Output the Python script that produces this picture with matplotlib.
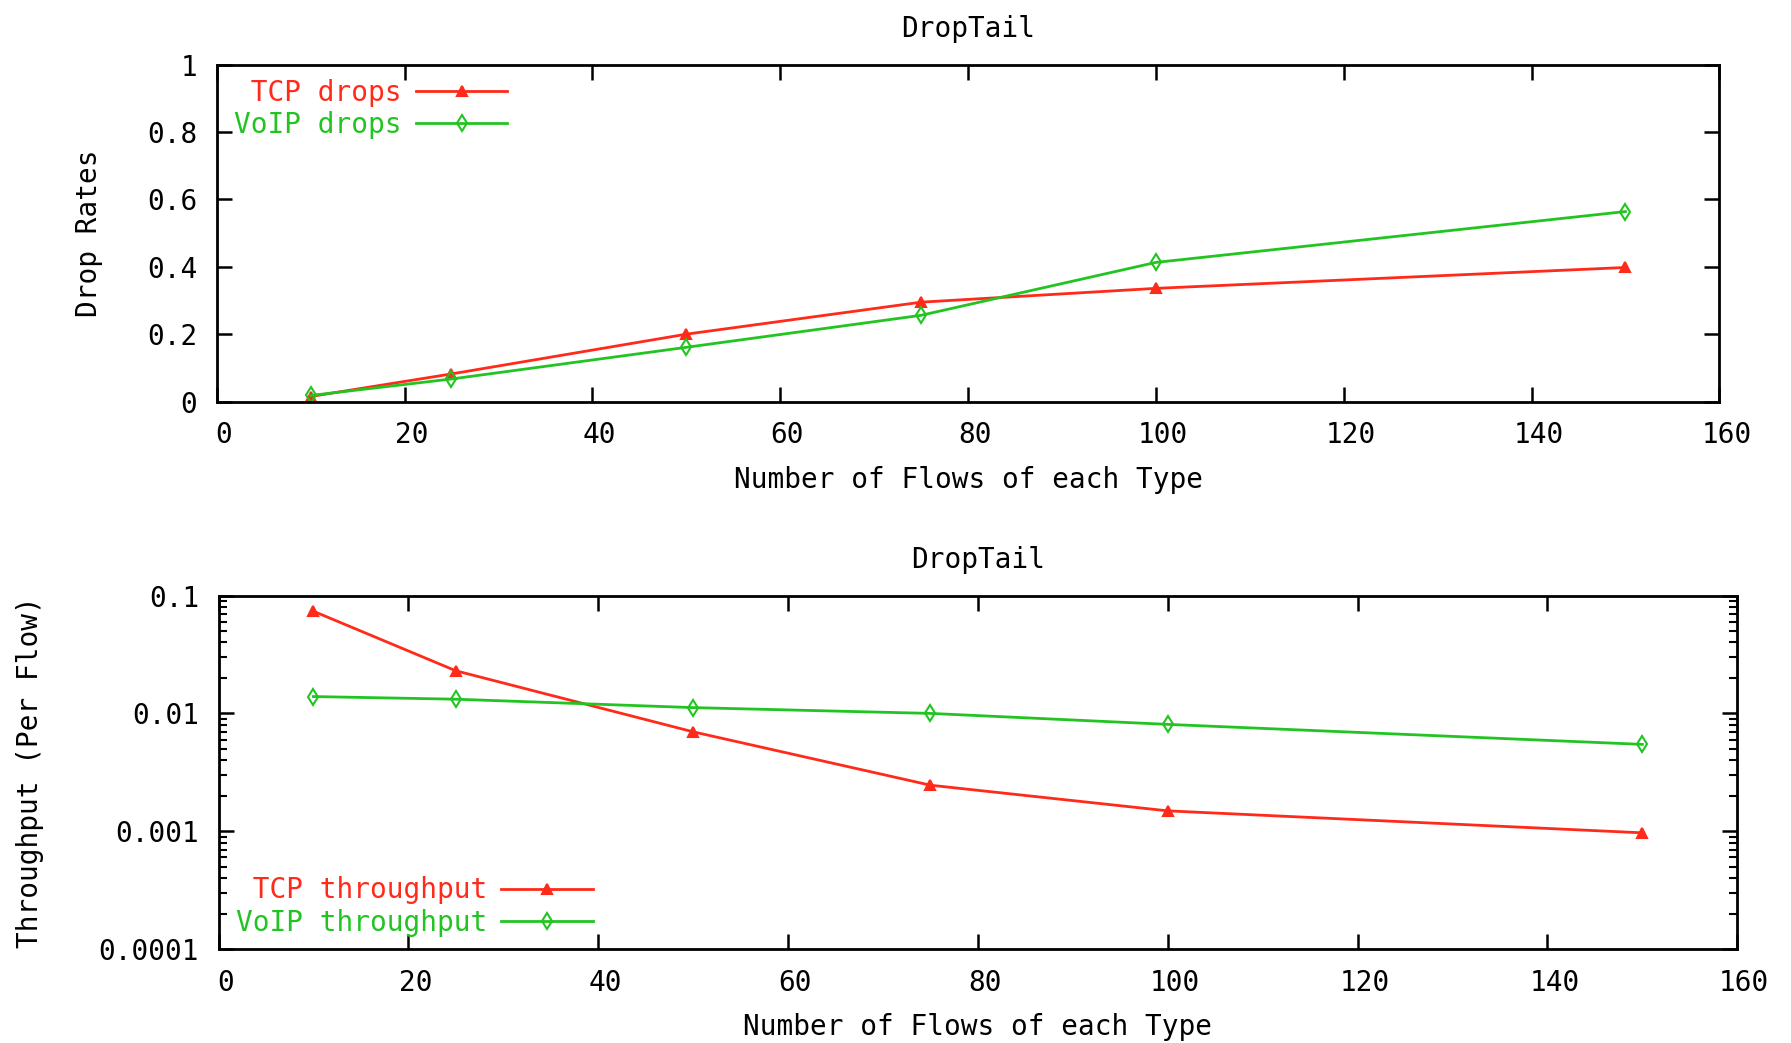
import numpy as np
import matplotlib
matplotlib.use('Agg')
from matplotlib import pyplot as plt
from matplotlib import transforms
from matplotlib.ticker import LogLocator, NullFormatter, FixedLocator

flows = [10, 25, 50, 75, 100, 150]
tcp_drops = [0.015, 0.082, 0.200, 0.295, 0.336, 0.398]
voip_drops = [0.018, 0.067, 0.161, 0.256, 0.413, 0.564]
tcp_tput = [0.0736, 0.0230, 0.00698, 0.00246, 0.00149, 0.00097]
voip_tput = [0.0139, 0.0132, 0.0112, 0.0100, 0.00807, 0.00546]

x_ticks = [0, 20, 40, 60, 80, 100, 120, 140, 160]
drop_ticks = [0, 0.2, 0.4, 0.6, 0.8, 1]
drop_labels = ['0', '0.2', '0.4', '0.6', '0.8', '1']
tput_ticks = [0.0001, 0.001, 0.01, 0.1]
tput_labels = ['0.0001', '0.001', '0.01', '0.1']

RED = '#ff2a1a'
GREEN = '#22c422'
FONT = 'DejaVu Sans Mono'
FS = 20

plt.rcParams['font.family'] = FONT
plt.rcParams['font.size'] = FS

fig = plt.figure(figsize=(17.91, 10.43), dpi=100)
ax1 = fig.add_axes([0.121, 0.615, 0.839, 0.323])
ax2 = fig.add_axes([0.122, 0.090, 0.848, 0.339])


def style_axis(ax):
    for s in ax.spines.values():
        s.set_linewidth(2)
    ax.tick_params(which='major', direction='in', length=11, width=1.8,
                   top=True, right=True, labelsize=FS, pad=14)
    ax.tick_params(which='minor', direction='in', length=6, width=1.5,
                   top=False, right=True, left=True)
    ax.set_xlim(0, 160)
    ax.set_xticks(x_ticks)
    ax.set_xticklabels([str(t) for t in x_ticks])
    # gnuplot puts its x labels a little right of the tick
    off = transforms.ScaledTranslation(0.07, 0, fig.dpi_scale_trans)
    for lab in ax.get_xticklabels():
        lab.set_transform(lab.get_transform() + off)
    ax.set_xlabel('Number of Flows of each Type', fontsize=FS, labelpad=12)
    ax.set_title('DropTail', fontsize=FS, pad=20)


# top: drop rates
ax1.plot(flows, tcp_drops, color=RED, lw=2, marker='^', ms=7, mew=1.5,
         label=' TCP drops')
ax1.plot(flows, voip_drops, color=GREEN, lw=2, marker='d', ms=8, mew=1.5,
         mfc='none', label='VoIP drops')
ax1.set_ylim(0, 1)
ax1.set_yticks(drop_ticks)
ax1.set_yticklabels(drop_labels)
ax1.set_ylabel('Drop Rates', fontsize=FS, va='center')
ax1.yaxis.set_label_coords(-0.085, 0.5)
style_axis(ax1)
leg1 = ax1.legend(loc='upper left', frameon=False, markerfirst=False,
                  handlelength=3.3, handletextpad=0.5, labelspacing=0.15,
                  borderaxespad=0.0, borderpad=0.2,
                  bbox_to_anchor=(0.008, 0.975))
for txt, c in zip(leg1.get_texts(), [RED, GREEN]):
    txt.set_color(c)

# bottom: throughput (log)
ax2.plot(flows, tcp_tput, color=RED, lw=2, marker='^', ms=7, mew=1.5,
         label=' TCP throughput')
ax2.plot(flows, voip_tput, color=GREEN, lw=2, marker='d', ms=8, mew=1.5,
         mfc='none', label='VoIP throughput')
ax2.set_yscale('log')
ax2.set_ylim(0.0001, 0.1)
ax2.yaxis.set_major_locator(FixedLocator(tput_ticks))
ax2.set_yticklabels(tput_labels)
ax2.yaxis.set_minor_locator(LogLocator(base=10, subs=np.arange(2, 10)))
ax2.yaxis.set_minor_formatter(NullFormatter())
ax2.set_ylabel('Throughput (Per Flow)', fontsize=FS, va='center')
ax2.yaxis.set_label_coords(-0.124, 0.5)
style_axis(ax2)
leg2 = ax2.legend(loc='lower left', frameon=False, markerfirst=False,
                  handlelength=3.3, handletextpad=0.5, labelspacing=0.15,
                  borderaxespad=0.0, borderpad=0.2,
                  bbox_to_anchor=(0.008, 0.02))
for txt, c in zip(leg2.get_texts(), [RED, GREEN]):
    txt.set_color(c)

fig.savefig('out.png', dpi=100, facecolor='white')
